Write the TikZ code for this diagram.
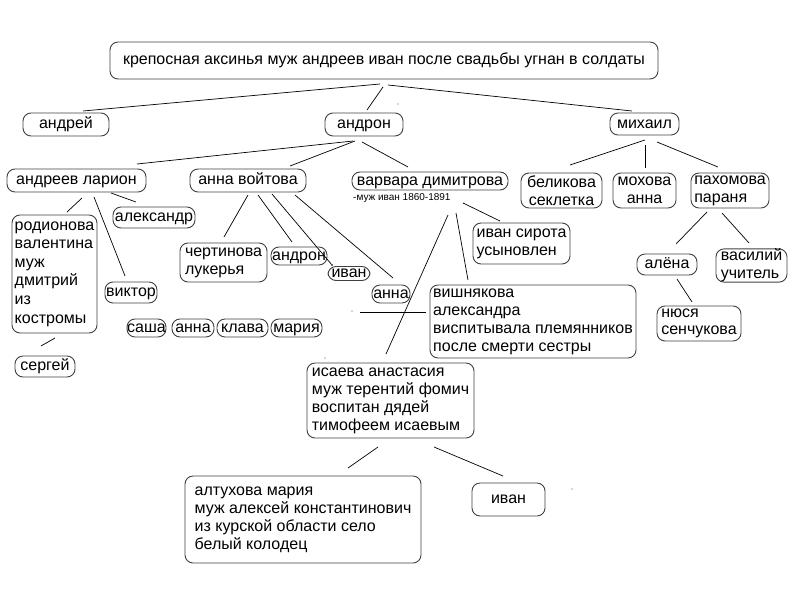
\documentclass[tikz,border=0pt]{standalone}
\usepackage{fontspec}
\setmainfont{Liberation Sans}
\begin{document}
\begin{tikzpicture}[x=1pt,y=-1pt,
  box/.style={draw=black!75, line width=0.9pt, rounded corners=8pt, inner sep=0pt,
    font=\fontsize{16}{18}\selectfont, align=left},
  one/.style={box, text height=11.5pt, text depth=3.5pt},
  ln/.style={line width=0.7pt, black},
  speck/.style={fill=black!70}]
\useasboundingbox (0,0) rectangle (800,600);

% ---------- nodes ----------
\node[one, minimum width=548pt, minimum height=37pt] (top) at (384,60.5) {крепосная аксинья муж андреев иван после свадьбы угнан в солдаты};

\node[one, minimum width=86pt, minimum height=23pt] (andrey) at (66,124.5) {андрей};
\node[one, minimum width=78pt, minimum height=23pt] (andron) at (364,124.5) {андрон};
\node[one, minimum width=69pt, minimum height=22pt] (mikhail) at (644.5,124) {михаил};

\node[one, minimum width=139pt, minimum height=23pt] (larion) at (76.5,180.5) {андреев ларион};
\node[one, minimum width=116pt, minimum height=23pt] (voitova) at (248,180.5) {анна войтова};
\node[one, minimum width=156pt, minimum height=18pt] (varvara) at (430,181) {варвара димитрова};
\node[anchor=west, inner sep=0pt, font=\fontsize{10}{12}\selectfont] (muzh) at (353,198) {-муж иван 1860-1891};

\node[box, minimum width=81pt, minimum height=35pt, align=center] (belikova) at (561.5,190.5) {беликова\\секлетка};
\node[box, minimum width=63pt, minimum height=35pt, align=center] (mokhova) at (644.5,190.5) {мохова\\анна};
\node[box, minimum width=78pt, minimum height=35pt] (pakhomova) at (730,190.5) {пахомова\\параня};

\node[one, minimum width=82pt, minimum height=21pt] (aleksandr) at (154,217.5) {александр};
\node[box, minimum width=85pt, minimum height=118pt, font=\fontsize{16}{18.6}\selectfont] (rodionova) at (54.5,274) {родионова\\валентина\\муж\\дмитрий\\из\\костромы};
\node[one, minimum width=52pt, minimum height=21pt] (viktor) at (131,292.5) {виктор};
\node[one, minimum width=60pt, minimum height=21pt] (sergey) at (45,366.5) {сергей};

\node[one, minimum width=39pt, minimum height=18pt] (sasha) at (146.5,328) {саша};
\node[one, minimum width=42pt, minimum height=18pt] (annaA) at (193,328) {анна};
\node[one, minimum width=51pt, minimum height=18pt] (klava) at (242.5,328) {клава};
\node[one, minimum width=51pt, minimum height=18pt] (mariya) at (296.5,328) {мария};

\node[box, minimum width=87pt, minimum height=39pt] (chertinova) at (223.5,262.5) {чертинова\\лукерья};
\node[one, minimum width=56pt, minimum height=18pt] (andronB) at (299,256) {андрон};
\node[one, minimum width=42pt, minimum height=14pt, text height=9pt, text depth=2pt] (ivanA) at (349,273.5) {иван};
\node[one, minimum width=38pt, minimum height=18pt] (annaB) at (391,294) {анна};

\node[box, minimum width=97pt, minimum height=41pt] (sirota) at (521.5,243.5) {иван сирота\\усыновлен};
\node[box, minimum width=206pt, minimum height=73pt] (vishnyakova) at (533,321.5) {вишнякова\\александра\\виспитывала племянников\\после смерти сестры};

\node[one, minimum width=60pt, minimum height=21pt] (alena) at (667,264.5) {алёна};
\node[box, minimum width=71pt, minimum height=31pt] (vasiliy) at (751.5,265.5) {василий\\учитель};
\node[box, minimum width=84pt, minimum height=35pt, font=\fontsize{16}{17}\selectfont] (nyusya) at (699,323.5) {нюся\\сенчукова};

\node[box, minimum width=167pt, minimum height=75pt] (isaeva) at (390.5,400.5) {исаева анастасия\\муж терентий фомич\\воспитан дядей\\тимофеем исаевым};
\node[box, minimum width=236pt, minimum height=87pt] (altukhova) at (303,519.5) {алтухова мария\\муж алексей константинович\\из курской области село\\белый колодец};
\node[one, minimum width=73pt, minimum height=33pt] (ivanB) at (508.5,499.5) {иван};

% ---------- connector end points (lines float between boxes) ----------
\coordinate (t1) at (380,84);   \coordinate (t1e) at (83,111);
\coordinate (t2) at (383,87);   \coordinate (t2e) at (367,110);
\coordinate (t3) at (388,85);   \coordinate (t3e) at (632,111);
\coordinate (a1) at (353,141);  \coordinate (a1e) at (137,164);
\coordinate (a2) at (355,141);  \coordinate (a2e) at (290,166);
\coordinate (a3) at (362,142);  \coordinate (a3e) at (408,167);
\coordinate (m1) at (645,140);  \coordinate (m1e) at (570,165);
\coordinate (m2) at (645,145);  \coordinate (m2e) at (645,168);
\coordinate (m3) at (657,142);  \coordinate (m3e) at (718,167);
\coordinate (l1) at (82,198);   \coordinate (l1e) at (67,212);
\coordinate (l2) at (94,197);   \coordinate (l2e) at (125,276);
\coordinate (l3) at (111,193);  \coordinate (l3e) at (136,202);
\coordinate (r1) at (55,338);   \coordinate (r1e) at (41,346);
\coordinate (v1) at (248,195);  \coordinate (v1e) at (224,237);
\coordinate (v2) at (258,195);  \coordinate (v2e) at (292,242);
\coordinate (v3) at (272,194);  \coordinate (v3e) at (332,265);
\coordinate (v4) at (295,195);  \coordinate (v4e) at (393,278);
\coordinate (d1) at (463,203);  \coordinate (d1e) at (500,221);
\coordinate (d2) at (448,215);  \coordinate (d2e) at (386,354);
\coordinate (d3) at (456,213);  \coordinate (d3e) at (468,280);
\coordinate (h1) at (360,312);  \coordinate (h1e) at (426,312);
\coordinate (p1) at (707,212);  \coordinate (p1e) at (676,244);
\coordinate (p2) at (722,213);  \coordinate (p2e) at (749,243);
\coordinate (n1) at (677,279);  \coordinate (n1e) at (692,302);
\coordinate (i1) at (378,447);  \coordinate (i1e) at (348,468);
\coordinate (i2) at (434,447);  \coordinate (i2e) at (503,476);

\foreach \s in {t1,t2,t3,a1,a2,a3,m1,m2,m3,l1,l2,l3,r1,v1,v2,v3,v4,d1,d2,d3,h1,p1,p2,n1,i1,i2}
  \draw[ln] (\s) -- (\s e);

% ---------- stray specks ----------
\fill[speck] (398,104) circle (0.7);
\fill[speck] (352,311) circle (0.7);
\fill[speck] (325,358) circle (0.7);
\fill[speck] (572,489) circle (0.7);
\fill[speck] (332,265) circle (1.1);
\end{tikzpicture}
\end{document}
